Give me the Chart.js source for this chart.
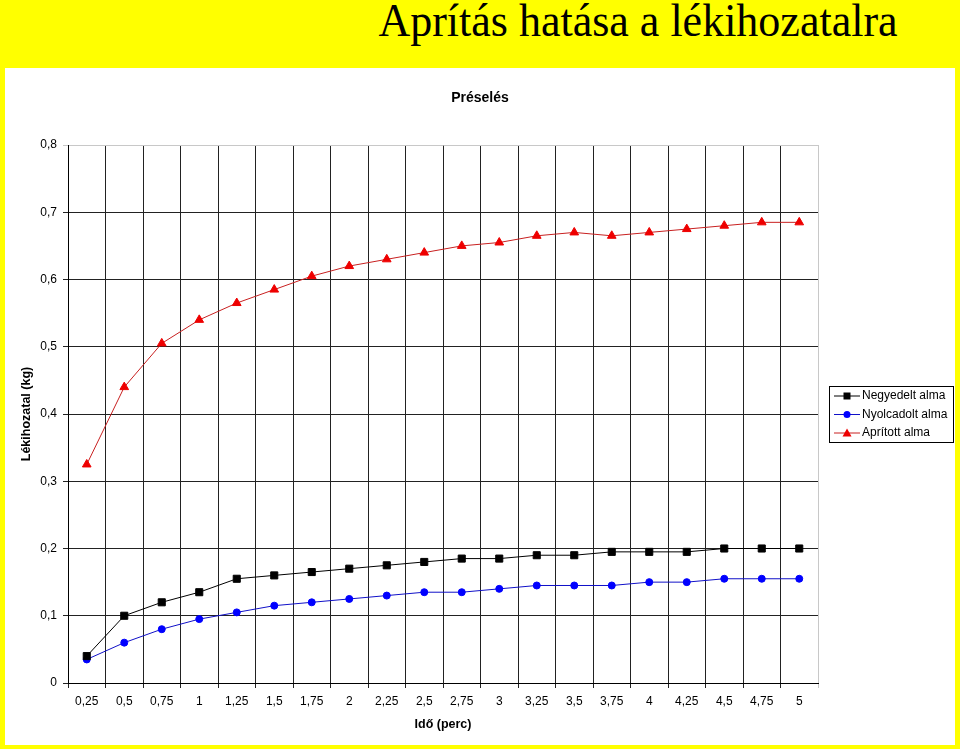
<!DOCTYPE html>
<html>
<head>
<meta charset="utf-8">
<script src="https://cdn.jsdelivr.net/npm/chart.js@4/dist/chart.umd.min.js"></script>
<style>
  body { margin: 0; width: 960px; height: 749px; background: #ffff00; position: relative; overflow: hidden; }
  #head { position: absolute; left: 638px; top: 0px; transform: translateX(-50%) scaleY(1.06); transform-origin: 50% 84%; white-space: nowrap;
          font-family: "Liberation Serif", "Times New Roman", serif; font-size: 44px; line-height: 1; color: #000; }
  #box { position: absolute; left: 5px; top: 68px; width: 950px; height: 677px; background: #fff; }
</style>
</head>
<body>
<div id="head">Aprítás hatása a lékihozatalra</div>
<div id="box"><canvas id="cht"></canvas></div>
<script>
// ido (perc)
const categories = ["0,25","0,5","0,75","1","1,25","1,5","1,75","2","2,25","2,5","2,75","3","3,25","3,5","3,75","4","4,25","4,5","4,75","5"];
const negyedelt = [0.04,0.10,0.12,0.135,0.155,0.16,0.165,0.17,0.175,0.18,0.185,0.185,0.19,0.19,0.195,0.195,0.195,0.20,0.20,0.20];
const nyolcadolt = [0.035,0.06,0.08,0.095,0.105,0.115,0.12,0.125,0.13,0.135,0.135,0.14,0.145,0.145,0.145,0.15,0.15,0.155,0.155,0.155];
const aprított = [0.325,0.44,0.505,0.54,0.565,0.585,0.605,0.62,0.63,0.64,0.65,0.655,0.665,0.67,0.665,0.67,0.675,0.68,0.685,0.685];
const yTicks = [0,0.1,0.2,0.3,0.4,0.5,0.6,0.7,0.8];

Chart.defaults.font.family = "'Liberation Sans', Arial, sans-serif";
Chart.defaults.font.size = 12;
Chart.defaults.color = "#000";

// legend with box, line and marker like excel
const boxLegend = {
  id: 'boxLegend',
  afterDraw(chart) {
    const ctx = chart.ctx;
    const a = chart.chartArea;
    const x0 = a.right + 11, w = 124, h = 56;
    const y0 = (a.top + a.bottom) / 2 - h / 2;
    ctx.save();
    ctx.strokeStyle = '#000';
    ctx.lineWidth = 1;
    ctx.strokeRect(x0 + 0.5, y0 + 0.5, w, h);
    chart.data.datasets.forEach((ds, i) => {
      const y = y0 + 10 + i * 18.5;
      ctx.strokeStyle = ds.borderColor;
      ctx.beginPath();
      ctx.moveTo(x0 + 5, y);
      ctx.lineTo(x0 + 31, y);
      ctx.stroke();
      ctx.fillStyle = ds.pointBackgroundColor;
      const cx = x0 + 18;
      ctx.beginPath();
      if (ds.pointStyle === 'rect') ctx.rect(cx - 3.5, y - 3.5, 7, 7);
      else if (ds.pointStyle === 'circle') ctx.arc(cx, y, 3.5, 0, Math.PI * 2);
      else { ctx.moveTo(cx, y - 4.5); ctx.lineTo(cx + 4.5, y + 3.5); ctx.lineTo(cx - 4.5, y + 3.5); ctx.closePath(); }
      ctx.fill();
      ctx.fillStyle = '#000';
      ctx.font = "12px 'Liberation Sans', Arial, sans-serif";
      ctx.textBaseline = 'middle';
      ctx.fillText(ds.label, x0 + 33, y);
    });
    ctx.restore();
  }
};

new Chart("cht", {
  type: "line",
  data: {
    labels: categories,
    datasets: [
      { label: "Negyedelt alma", data: negyedelt, borderColor: "#000", backgroundColor: "#000",
        pointBackgroundColor: "#000", pointBorderColor: "#000", pointStyle: "rect", pointRadius: 5, borderWidth: 1 },
      { label: "Nyolcadolt alma", data: nyolcadolt, borderColor: "#1010c8", backgroundColor: "#0000ff",
        pointBackgroundColor: "#0000ff", pointBorderColor: "#0000ff", pointStyle: "circle", pointRadius: 3.5, borderWidth: 1 },
      { label: "Aprított alma", data: aprított, borderColor: "#c82020", backgroundColor: "#ff0000",
        pointBackgroundColor: "#ee0000", pointBorderColor: "#ee0000", pointStyle: "triangle", pointRadius: 5, borderWidth: 1 }
    ]
  },
  options: {
    animation: false,
    responsive: true,
    maintainAspectRatio: false,
    plugins: {
      legend: { display: false },
      tooltip: { enabled: false },
      title: { display: true, text: "Préselés", font: { size: 14, weight: "bold" }, padding: { top: 21.6, bottom: 38.6 } }
    },
    scales: {
      x: {
        offset: true,
        grid: { offset: true, tickLength: 5, color: c => c.index === undefined ? '#c8c8c8' : '#222' },
        border: { color: '#000' },
        ticks: { padding: 6, maxRotation: 0, autoSkip: false },
        title: { display: true, text: "Idő (perc)", font: { size: 12.5, weight: "bold" }, padding: { top: 0, bottom: 13 } },
        afterFit(s) { s.height = 62; }
      },
      y: {
        min: 0, max: 0.8,
        afterBuildTicks(s) { s.ticks = yTicks.map(v => ({ value: v })); },
        grid: { tickLength: 5, color: c => (c.tick && Math.abs(c.tick.value - 0.8) < 1e-6) ? '#c8c8c8' : '#222' },
        border: { color: '#000' },
        ticks: { padding: 6, callback: v => v === 0 ? "0" : v.toFixed(1).replace('.', ',') },
        title: { display: true, text: "Lékihozatal (kg)", font: { size: 12.5, weight: "bold" }, padding: { top: 14, bottom: 0 } },
        afterFit(s) { s.width = 63; }
      },
      // empty right-hand room for the legend, keeps the title centred on the whole box
      side: {
        position: 'right',
        display: true,
        grid: { display: false },
        border: { display: false },
        ticks: { display: false },
        afterFit(s) { s.width = 137; }
      }
    }
  },
  plugins: [boxLegend]
});
</script>
</body>
</html>
